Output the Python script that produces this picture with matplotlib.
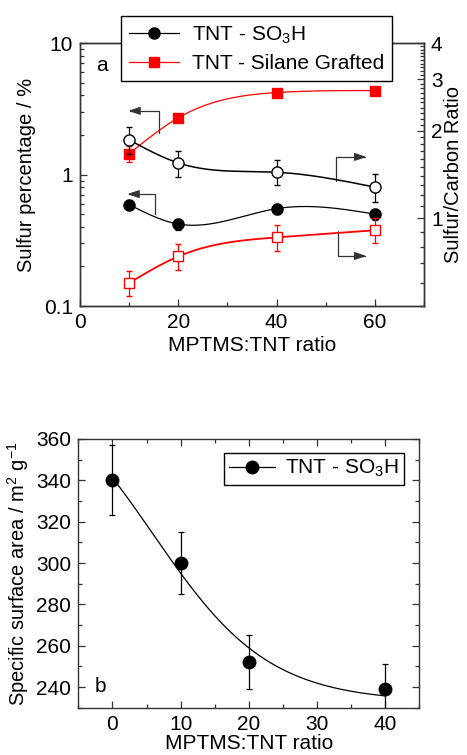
import numpy as np
import matplotlib
matplotlib.use('Agg')
import matplotlib.pyplot as plt
from matplotlib.lines import Line2D
from matplotlib.ticker import LogLocator, MultipleLocator, NullFormatter

plt.rcParams['font.family'] = ['Liberation Sans', 'DejaVu Sans']
plt.rcParams['mathtext.fontset'] = 'custom'
plt.rcParams['mathtext.rm'] = 'Liberation Sans'
plt.rcParams['mathtext.it'] = 'Liberation Sans:italic'
plt.rcParams['mathtext.bf'] = 'Liberation Sans:bold'

# panel a: sulfur content (left axis) and S/C ratio (right axis)
ratio_a = [10, 20, 40, 60]
sulfur_so3h = [0.59, 0.42, 0.55, 0.50]
sulfur_so3h_err = [0.05, 0.04, 0.05, 0.05]
sulfur_silane = [1.44, 2.70, 4.20, 4.35]
sulfur_silane_err = [0.20, 0.15, 0.30, 0.30]
sc_so3h = [1.86, 1.55, 1.44, 1.28]
sc_so3h_err = [0.20, 0.16, 0.14, 0.14]
sc_silane = [0.60, 0.74, 0.86, 0.91]
sc_silane_err = [0.06, 0.075, 0.085, 0.09]

# panel b: specific surface area
ratio_b = [0, 10, 20, 40]
surface_area = [340, 300, 252, 239]
surface_area_err = [17, 15, 13, 12]

EDGE = '#333333'
FS = 15


def natural_spline(x, y, xs):
    """Natural cubic spline through (x, y), evaluated at xs."""
    x = np.asarray(x, float)
    y = np.asarray(y, float)
    n = len(x)
    h = np.diff(x)
    A = np.zeros((n, n))
    b = np.zeros(n)
    A[0, 0] = A[-1, -1] = 1
    for i in range(1, n - 1):
        A[i, i - 1] = h[i - 1]
        A[i, i] = 2 * (h[i - 1] + h[i])
        A[i, i + 1] = h[i]
        b[i] = 3 * ((y[i + 1] - y[i]) / h[i] - (y[i] - y[i - 1]) / h[i - 1])
    c = np.linalg.solve(A, b)
    idx = np.clip(np.searchsorted(x, xs) - 1, 0, n - 2)
    dx = xs - x[idx]
    bb = (y[idx + 1] - y[idx]) / h[idx] - h[idx] * (2 * c[idx] + c[idx + 1]) / 3
    d = (c[idx + 1] - c[idx]) / (3 * h[idx])
    return y[idx] + bb * dx + c[idx] * dx ** 2 + d * dx ** 3


def log_spline(x, y, xs):
    return 10 ** natural_spline(x, np.log10(y), xs)


def boltzmann_fit(x, y, xs):
    """Least-squares Boltzmann curve (grid over centre/width, linear amplitudes)."""
    x = np.asarray(x, float)
    y = np.asarray(y, float)
    best = None
    for x0 in np.arange(0, 30.01, 0.25):
        for w in np.arange(8.5, 15.01, 0.25):
            s = 1 / (1 + np.exp((x - x0) / w))
            M = np.column_stack([np.ones_like(s), s])
            coef = np.linalg.lstsq(M, y, rcond=None)[0]
            err = np.sum((M @ coef - y) ** 2)
            if best is None or err < best[0]:
                best = (err, x0, w, coef)
    _, x0, w, (a2, dd) = best
    return a2 + dd / (1 + np.exp((xs - x0) / w))


def style_axis(ax):
    for sp in ax.spines.values():
        sp.set_color(EDGE)
        sp.set_linewidth(1.0)
    ax.tick_params(which='both', direction='in', colors=EDGE, labelcolor='black',
                   labelsize=FS, width=0.9, pad=5)
    ax.tick_params(which='major', length=5)
    ax.tick_params(which='minor', length=3)


fig = plt.figure(figsize=(4.67, 7.55), dpi=100)

# ---------------- panel a ----------------
ax1 = fig.add_axes([0.1713, 0.5947, 0.7367, 0.3483])
ax2 = ax1.twinx()

xs = np.linspace(ratio_a[0], ratio_a[-1], 200)

ax1.plot(xs, log_spline(ratio_a, sulfur_silane, xs), color='red', lw=0.9)
ax1.errorbar(ratio_a, sulfur_silane, yerr=sulfur_silane_err, fmt='s', color='red',
             ms=7, capsize=2.5, elinewidth=0.9, capthick=0.9)
ax1.plot(xs, log_spline(ratio_a, sulfur_so3h, xs), color='black', lw=0.9)
ax1.errorbar(ratio_a, sulfur_so3h, yerr=sulfur_so3h_err, fmt='o', color='black',
             ms=8, capsize=2.5, elinewidth=0.9, capthick=0.9)

ax2.plot(xs, log_spline(ratio_a, sc_so3h, xs), color='black', lw=1.1)
ax2.errorbar(ratio_a, sc_so3h, yerr=sc_so3h_err, fmt='o', color='black', mfc='white',
             ms=8, capsize=2.5, elinewidth=0.9, capthick=0.9, mew=1.0)
ax2.plot(xs, log_spline(ratio_a, sc_silane, xs), color='red', lw=1.3)
ax2.errorbar(ratio_a, sc_silane, yerr=sc_silane_err, fmt='s', color='red', mfc='white',
             ms=7, capsize=2.5, elinewidth=0.9, capthick=0.9, mew=1.0)

ax1.set_xlim(0, 70)
ax1.set_yscale('log')
ax1.set_ylim(0.1, 10)
ax1.set_xticks([0, 20, 40, 60])
ax1.xaxis.set_minor_locator(MultipleLocator(10))
ax1.set_yticks([0.1, 1, 10])
ax1.set_yticklabels(['0.1', '1', '10'])
ax1.yaxis.set_minor_locator(LogLocator(subs=np.arange(2, 10)))
ax1.yaxis.set_minor_formatter(NullFormatter())
style_axis(ax1)
ax1.tick_params(which='both', right=False, top=False)

ax2.set_yscale('log')
ax2.set_ylim(0.5, 4)
ax2.set_yticks([1, 2, 3, 4])
ax2.set_yticklabels(['1', '2', '3', '4'])
ax2.yaxis.set_minor_locator(MultipleLocator(0.1))
ax2.yaxis.set_minor_formatter(NullFormatter())
style_axis(ax2)
ax2.tick_params(which='both', top=False)

ax1.set_xlabel('MPTMS:TNT ratio', fontsize=FS, labelpad=3)
ax1.set_ylabel('Sulfur percentage / %', fontsize=14.5, labelpad=6)
ax2.set_ylabel('Sulfur/Carbon Ratio', fontsize=14.5, labelpad=1)
ax1.text(0.064, 0.913, 'a', transform=ax1.transAxes, fontsize=FS,
         ha='center', va='center')

# arrows linking curves to their axes
arrow_kw = dict(arrowstyle='-|>,head_length=0.6,head_width=0.2', color=EDGE,
                lw=0.9, shrinkA=0, shrinkB=0, mutation_scale=12)
ax1.annotate('', xy=(9.8, 3.05), xytext=(16.1, 2.08),
             arrowprops=dict(connectionstyle='angle,angleA=90,angleB=0,rad=0', **arrow_kw))
ax1.annotate('', xy=(9.6, 0.71), xytext=(15.3, 0.50),
             arrowprops=dict(connectionstyle='angle,angleA=90,angleB=0,rad=0', **arrow_kw))
ax1.annotate('', xy=(58.3, 1.36), xytext=(52.0, 0.89),
             arrowprops=dict(connectionstyle='angle,angleA=90,angleB=0,rad=0', **arrow_kw))
ax1.annotate('', xy=(58.3, 0.24), xytext=(52.4, 0.37),
             arrowprops=dict(connectionstyle='angle,angleA=90,angleB=0,rad=0', **arrow_kw))

handles = [Line2D([], [], color='black', marker='o', ms=8, lw=0.9),
           Line2D([], [], color='red', marker='s', ms=7, lw=0.9)]
leg = fig.legend(handles, ['TNT - SO$_3$H', 'TNT - Silane Grafted'],
                 loc='upper left', bbox_to_anchor=(121 / 467, 1 - 16 / 755),
                 bbox_transform=fig.transFigure, fontsize=FS, frameon=True,
                 fancybox=False, edgecolor='black', framealpha=1, borderaxespad=0,
                 handlelength=2.4, handletextpad=0.6, labelspacing=0.4, borderpad=0.4)
leg.get_frame().set_linewidth(1.0)

# ---------------- panel b ----------------
ax3 = fig.add_axes([0.1677, 0.0626, 0.7302, 0.356])
xb = np.linspace(ratio_b[0], ratio_b[-1], 200)
ax3.plot(xb, boltzmann_fit(ratio_b, surface_area, xb), color='black', lw=0.9)
ax3.errorbar(ratio_b, surface_area, yerr=surface_area_err, fmt='o', color='black',
             ms=9, capsize=2.5, elinewidth=0.9, capthick=0.9)
ax3.set_xlim(-5, 45)
ax3.set_ylim(230, 360)
ax3.set_xticks([0, 10, 20, 30, 40])
ax3.xaxis.set_minor_locator(MultipleLocator(5))
ax3.set_yticks(np.arange(240, 361, 20))
ax3.yaxis.set_minor_locator(MultipleLocator(10))
style_axis(ax3)
ax3.tick_params(which='both', top=True, right=True)
ax3.set_xlabel('MPTMS:TNT ratio', fontsize=FS, labelpad=0)
ax3.set_ylabel('Specific surface area / m$^2$ g$^{-1}$', fontsize=14.5, labelpad=4)
ax3.text(0.064, 0.078, 'b', transform=ax3.transAxes, fontsize=FS,
         ha='center', va='center')
leg_b = ax3.legend([Line2D([], [], color='black', marker='o', ms=9, lw=0.9)],
                   ['TNT - SO$_3$H'], loc='upper right', bbox_to_anchor=(0.955, 0.948),
                   fontsize=FS, frameon=True, fancybox=False, edgecolor='black',
                   framealpha=1, borderaxespad=0, handlelength=2.2,
                   handletextpad=0.5, borderpad=0.25)
leg_b.get_frame().set_linewidth(1.0)

fig.savefig('out.png', dpi=100)
